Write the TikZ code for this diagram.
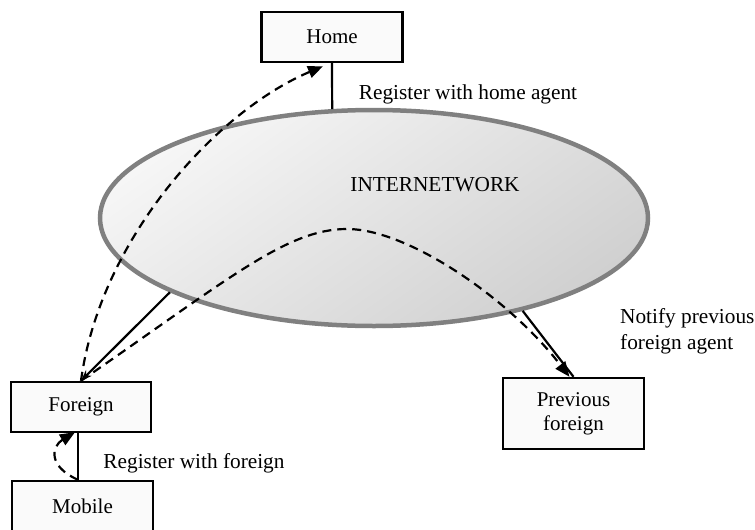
\documentclass[tikz,border=0pt]{standalone}
\usepackage{fontspec}
\setmainfont{Liberation Serif}
\usetikzlibrary{arrows.meta,shapes.geometric}
\definecolor{boxfill}{HTML}{FAFAFA}
\definecolor{netedge}{HTML}{808080}
\definecolor{netlight}{HTML}{F6F6F6}
\definecolor{netdark}{HTML}{D0D0D0}
\begin{document}
\begin{tikzpicture}[x=1pt,y=-1pt,
  agentbox/.style={draw=black,line width=2.4pt,fill=boxfill,inner sep=0pt,
    minimum width=141pt,minimum height=50pt,align=center,
    font=\fontsize{21}{24}\selectfont},
  lbl/.style={inner sep=0pt,font=\fontsize{21.3}{26}\selectfont},
  link/.style={draw=black,line width=2.2pt},
  msg/.style={draw=black,line width=2.2pt,dash pattern=on 9pt off 6pt},
  bigtip/.style={-{Triangle[length=15pt,width=12pt]}},
  smalltip/.style={-{Stealth[length=11pt,width=8pt]}}
]
\useasboundingbox (0,0) rectangle (755,530);

% internetwork
\node[ellipse,draw=netedge,line width=4.5pt,top color=netlight,bottom color=netdark,
  shading angle=35,minimum width=548pt,minimum height=216pt,inner sep=0pt]
  (net) at (374,218) {};
\node[lbl] (nettext) at (435,185) {INTERNETWORK};

% agents
\node[agentbox] (home) at (332,37) {Home};
\node[agentbox,minimum width=140pt] (foreign) at (81,407) {Foreign};
\node[agentbox] (mobile) at (82.5,506) {Mobile};
\node[agentbox,minimum height=71pt] (prev) at (573.5,413.5) {Previous\\foreign};

% labels
\node[lbl] (lhome) at (468,94) {Register with home agent};
\node[lbl,anchor=west,align=left] (lnotify) at (620,331) {Notify previous\\foreign agent};
\node[lbl] (lforeign) at (194,463) {Register with foreign};

% solid links
\draw[link] (home.south) -- (net.111.4);
\draw[link,smalltip] (net.200.9) -- (foreign.north);
\draw[link] (net.328.9) -- (prev.north);
\coordinate (fs) at ([xshift=-3pt]foreign.south);
\coordinate (mn) at (fs |- mobile.north);
\draw[link] (fs) -- (mn);

% dashed messages
\coordinate (hometip) at ([xshift=-9pt,yshift=-3pt]home.south);
\draw[msg,bigtip] (foreign.north) .. controls (100,240) and (215,112) .. (hometip);
\coordinate (peak) at (347,229);
\coordinate (prevtip) at ([xshift=-4pt]prev.north);
\draw[msg,bigtip] (foreign.north) .. controls (230,278) and (287,229) .. (peak)
  .. controls (407,229) and (508,297) .. (prevtip);
\coordinate (ftip) at ([xshift=-6pt,yshift=1pt]foreign.south);
\draw[msg,bigtip] (mn) .. controls (47,466) and (52,446) .. (ftip);
\end{tikzpicture}
\end{document}
